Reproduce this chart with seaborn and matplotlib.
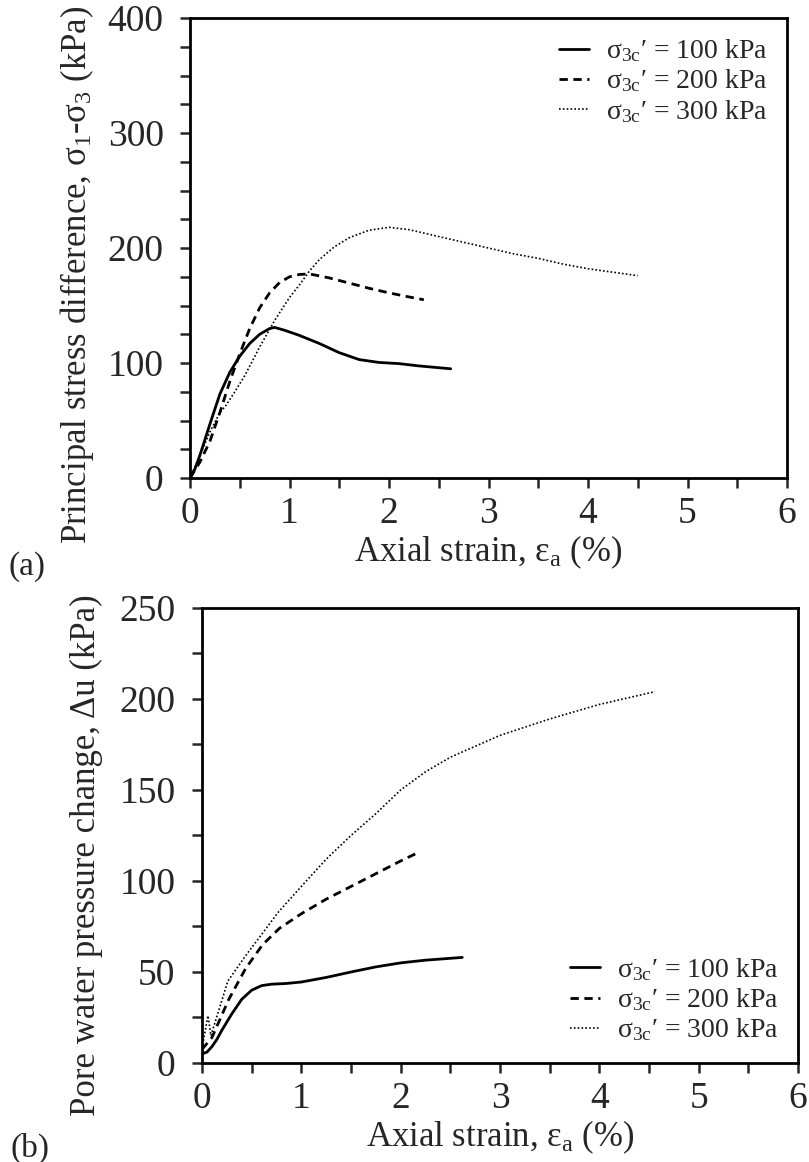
import numpy as np
import pandas as pd
import matplotlib
matplotlib.use("Agg")
import matplotlib.pyplot as plt
from matplotlib.ticker import MultipleLocator
import seaborn as sns

# (a) principal stress difference vs axial strain
strain_a_100 = [0, 0.05, 0.1, 0.2, 0.3, 0.4, 0.5, 0.6, 0.7, 0.8, 0.85, 0.95, 1.1, 1.3, 1.5,
                1.7, 1.9, 2.1, 2.3, 2.62]
q_100 = [0, 8, 20, 47, 73, 92, 106, 117, 125, 130, 131, 128.5, 124, 117, 109,
         103, 100.5, 99.5, 97.5, 95]

strain_a_200 = [0, 0.1, 0.2, 0.3, 0.4, 0.5, 0.6, 0.7, 0.8, 0.9, 1.0, 1.1, 1.2, 1.4, 1.6,
                1.8, 2.0, 2.2, 2.35]
q_200 = [0, 14, 32, 57, 84, 108, 130, 148, 161, 170, 175, 177, 177.5, 174, 169.5,
         165, 161, 157.5, 155]

strain_a_300 = [0, 0.1, 0.2, 0.3, 0.36, 0.45, 0.55, 0.7, 0.85, 1.0, 1.1, 1.2, 1.3, 1.45,
                1.6, 1.8, 2.0, 2.2, 2.5, 2.75, 3.0, 3.25, 3.5, 3.75, 4.0, 4.25, 4.5]
q_300 = [0, 20, 40, 57, 63, 75, 89, 114, 137, 157, 168, 180, 190, 201,
         209, 215.5, 218, 216, 210, 205, 200, 195, 191, 186, 182, 179, 176]

# (b) pore water pressure change vs axial strain
strain_b_100 = [0, 0.05, 0.1, 0.15, 0.2, 0.3, 0.4, 0.5, 0.6, 0.7, 0.85, 1.0, 1.25, 1.5,
                1.75, 2.0, 2.25, 2.62]
du_100 = [5, 6, 9, 13, 18, 27, 35, 40, 42.5, 43.3, 43.7, 44.5, 47, 50,
          52.8, 55, 56.5, 58]

strain_b_200 = [0, 0.1, 0.27, 0.44, 0.61, 0.78, 1.0, 1.25, 1.5, 1.75, 2.0, 2.19]
du_200 = [7.5, 14, 35, 52, 65, 74, 82, 90, 97, 104, 111, 116]

strain_b_300 = [0, 0.06, 0.09, 0.26, 0.44, 0.77, 1.0, 1.25, 1.5, 1.75, 2.0, 2.25, 2.5,
                2.75, 3.0, 3.5, 4.0, 4.56]
du_300 = [8, 26, 15, 45, 59, 83, 97, 112, 125, 137, 150, 160, 168,
          174, 180, 189, 197, 204]

labels = ["σ$_{\\mathrm{3c}}$′ = 100 kPa", "σ$_{\\mathrm{3c}}$′ = 200 kPa", "σ$_{\\mathrm{3c}}$′ = 300 kPa"]

sns.set_style("ticks")
plt.rcParams["font.family"] = ["Liberation Serif", "DejaVu Serif"]
plt.rcParams["mathtext.fontset"] = "custom"
plt.rcParams["mathtext.rm"] = "Liberation Serif"
plt.rcParams["mathtext.it"] = "Liberation Serif:italic"

styles = [dict(linestyle="-", lw=2.0),
          dict(linestyle=(0, (3, 2)), lw=2.0),
          dict(linestyle=(0, (1, 1.3)), lw=1.2)]

fig = plt.figure(figsize=(8.09, 11.62), dpi=100)
ax1 = fig.add_axes([0.2349, 0.5886, 0.7379, 0.3959])
ax2 = fig.add_axes([0.2497, 0.0852, 0.7367, 0.3916])

series_a = [(strain_a_100, q_100), (strain_a_200, q_200), (strain_a_300, q_300)]
series_b = [(strain_b_100, du_100), (strain_b_200, du_200), (strain_b_300, du_300)]

for ax, series in [(ax1, series_a), (ax2, series_b)]:
    for (x, y), lab, st in zip(series, labels, styles):
        df = pd.DataFrame({"x": x, "y": y})
        sns.lineplot(data=df, x="x", y="y", ax=ax, color="black", sort=False,
                     estimator=None, label=lab, **st)


def style_axes(ax, ymax, ymajor):
    ax.set_xlim(0, 6)
    ax.set_ylim(0, ymax)
    ax.xaxis.set_major_locator(MultipleLocator(1))
    ax.xaxis.set_minor_locator(MultipleLocator(0.5))
    ax.yaxis.set_major_locator(MultipleLocator(ymajor))
    ax.yaxis.set_minor_locator(MultipleLocator(25))
    ax.tick_params(which="both", direction="out", length=7, width=1.8, labelsize=27)
    ax.tick_params(axis="x", pad=6)
    ax.tick_params(axis="y", pad=12)
    for sp in ax.spines.values():
        sp.set_linewidth(2)
        sp.set_color("black")
    ax.set_xlabel("Axial strain, ε$_{\\mathrm{a}}$ (%)", fontsize=25, labelpad=2)


style_axes(ax1, 400, 100)
style_axes(ax2, 250, 50)

ax1.set_ylabel("Principal stress difference, σ$_1$-σ$_3$ (kPa)", fontsize=25)
ax1.yaxis.set_label_coords(-0.157, 0.441)
ax2.set_ylabel("Pore water pressure change, Δu (kPa)", fontsize=25)
ax2.yaxis.set_label_coords(-0.166, 0.457)

leg_kw = dict(frameon=False, fontsize=20, handlelength=1.1, handletextpad=0.6,
              labelspacing=0.12, borderaxespad=0.3)
ax1.legend(loc="upper right", **leg_kw)
ax2.legend(loc="lower right", **leg_kw)

fig.text(8 / 809, 1 - 567 / 1162, "(a)", fontsize=24, va="center", ha="left")
fig.text(10 / 809, 1 - 1148 / 1162, "(b)", fontsize=24, va="center", ha="left")

fig.savefig("out.png", dpi=100)
